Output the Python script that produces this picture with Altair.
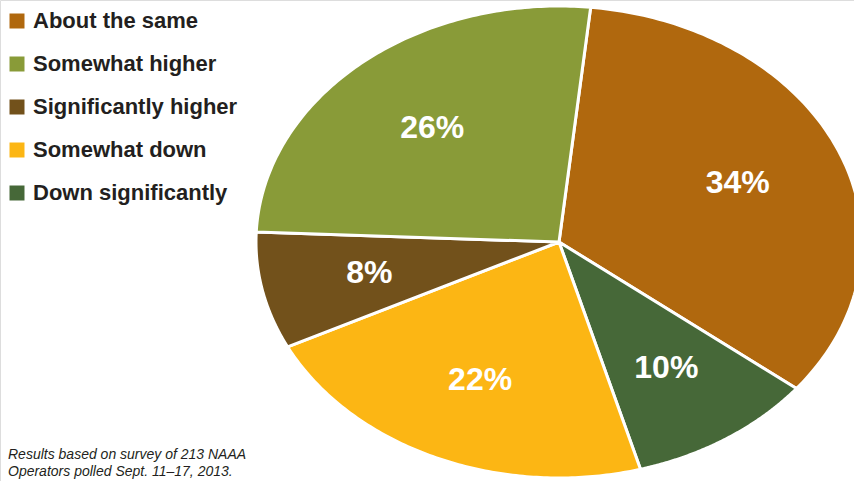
import altair as alt
import math

# ---- data ----
pie_categories = ["About the same", "Down significantly", "Somewhat down",
                  "Significantly higher", "Somewhat higher"]
pie_values = [34, 10, 22, 8, 26]

legend_order = ["About the same", "Somewhat higher", "Significantly higher",
                "Somewhat down", "Down significantly"]
legend_colors = ["#B0680E", "#899B38", "#72511B", "#FCB614", "#466838"]

footnote = ["Results based on survey of 213 NAAA",
            "Operators polled Sept. 11\u201317, 2013."]

N = 120
START = 6 * math.pi / 180
steps = list(range(-1, N + 2))

rows = [{"cat": c, "value": v, "ord": i, "steps": steps}
        for i, (c, v) in enumerate(zip(pie_categories, pie_values))]
data = alt.Data(values=rows)

FONT = "Liberation Sans, Arial, sans-serif"

xscale = alt.Scale(domain=[-1, 1], range=[256, 862], nice=False, zero=False)
yscale = alt.Scale(domain=[-1, 1], range=[478, 6], nice=False, zero=False)

base = alt.Chart(data).transform_window(
    cum="sum(value)", sort=[alt.SortField("ord")], frame=[None, 0]
).transform_joinaggregate(
    total="sum(value)"
).transform_calculate(
    a0=f"{START} + 2*PI*(datum.cum - datum.value)/datum.total",
    a1=f"{START} + 2*PI*datum.cum/datum.total",
)

slices = base.transform_flatten(["steps"]).transform_calculate(
    ang=f"datum.a0 + (datum.a1 - datum.a0)*clamp(datum.steps, 0, {N})/{N}",
    rr=f"(datum.steps < 0 || datum.steps > {N}) ? 0 : 1",
).transform_calculate(
    px="datum.rr*sin(datum.ang)",
    py="datum.rr*cos(datum.ang)",
).mark_line(stroke="white", strokeWidth=3, strokeJoin="round", clip=True).encode(
    x=alt.X("px:Q", scale=xscale, axis=None),
    y=alt.Y("py:Q", scale=yscale, axis=None),
    fill=alt.Fill("cat:N", scale=alt.Scale(domain=legend_order, range=legend_colors),
                  legend=alt.Legend(title=None, orient="none", legendX=6, legendY=10,
                                    symbolType="square", symbolSize=225,
                                    symbolStrokeWidth=0, symbolOpacity=1,
                                    labelFont=FONT, labelFontSize=22,
                                    labelFontWeight="bold", labelColor="#231F20",
                                    labelOffset=5, rowPadding=21, padding=0,
                                    labelLimit=400)),
    detail="cat:N",
    order=alt.Order("steps:Q"),
)

labels = base.transform_calculate(
    mid="(datum.a0 + datum.a1)/2",
).transform_calculate(
    lx="0.64*sin(datum.mid)",
    ly="0.64*cos(datum.mid)",
    lbl="datum.value + '%'",
).mark_text(font=FONT, fontSize=32, fontWeight="bold", color="white",
            align="center", baseline="middle").encode(
    x=alt.X("lx:Q", scale=xscale, axis=None),
    y=alt.Y("ly:Q", scale=yscale, axis=None),
    text="lbl:N",
)

note = alt.Chart(alt.Data(values=[{"k": 1}])).mark_text(
    font=FONT, fontSize=14, fontStyle="italic", color="#231F20",
    align="left", baseline="alphabetic", lineHeight=17,
).encode(
    x=alt.value(8), y=alt.value(459), text=alt.value(footnote),
)

chart = alt.layer(slices, labels, note).properties(
    width=854, height=481, autosize=alt.AutoSizeParams(type="none"), padding=0,
).configure_view(stroke="transparent", strokeWidth=0).configure(background="white")

chart.save("out.html", embed_options={"renderer": "svg", "actions": False})
